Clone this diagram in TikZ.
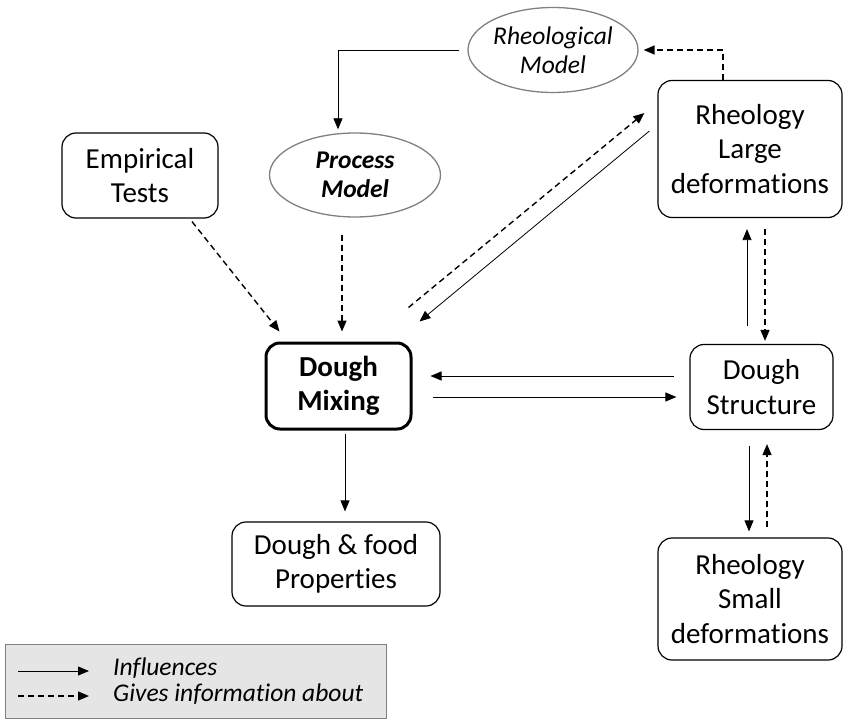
\documentclass[tikz,border=0pt]{standalone}
\usepackage{fontspec}
\setmainfont{Carlito}[Ligatures={NoCommon}]
\usetikzlibrary{arrows.meta,shapes.geometric}

\begin{document}
\begin{tikzpicture}[x=1pt, y=-1pt,
  box/.style={draw, rounded corners=14pt, line width=1.2pt, align=center, inner sep=0pt, font=\fontsize{29}{34.5}\selectfont},
  model/.style={draw=gray, ellipse, line width=1.3pt, align=center, inner sep=0pt, font=\fontsize{25.5}{29}\selectfont\itshape},
  keytext/.style={anchor=base west, inner sep=0pt, text height=17pt, text depth=0pt, font=\fontsize{25.5}{29}\selectfont\itshape},
  infl/.style={line width=0.8pt, -{Triangle[length=11pt,width=9pt]}},
  info/.style={line width=1.4pt, dash pattern=on 6pt off 4pt, -{Triangle[length=11pt,width=9pt]}}]
  \useasboundingbox (0,0) rectangle (843,722);
  \node [model, minimum width=170pt, minimum height=85pt] (rheomodel) at (553,50) {Rheological\\Model};
  \node [model, minimum width=171pt, minimum height=84pt, font=\fontsize{25.5}{29}\selectfont\bfseries\itshape] (procmodel) at (355,175) {Process\\Model};
  \node [box, minimum width=156pt, minimum height=85pt] (emptests) at (140,175.5) {Empirical\\Tests};
  \node [box, minimum width=184pt, minimum height=137pt] (rheolarge) at (750,149) {Rheology\\Large\\deformations};
  \node [box, line width=3pt, minimum width=145pt, minimum height=86pt, font=\fontsize{29}{34.5}\selectfont\bfseries] (mixing) at (338.5,386) {Dough\\Mixing};
  \node [box, minimum width=143pt, minimum height=85pt] (structure) at (761.5,387) {Dough\\Structure};
  \node [box, minimum width=208pt, minimum height=84pt] (props) at (336,564) {Dough \& food\\Properties};
  \node [box, minimum width=184pt, minimum height=122pt] (rheosmall) at (750,599) {Rheology\\Small\\deformations};
  \node [draw=gray, fill=gray!20, line width=1pt, anchor=north west, inner sep=0pt, minimum width=381pt, minimum height=74pt] (legend) at (5,644) {};
  \node [keytext] (infllabel) at (113,675) {Influences};
  \node [keytext] (infolabel) at (113,701) {Gives information about};
  \coordinate (inflstart) at (18,671);
  \coordinate (infostart) at (18,696);
  \draw[infl, shorten <=8pt] (rheomodel.west) -| ([xshift=-17pt,yshift=3pt]procmodel.north);
  \draw[info] ([xshift=-27pt]rheolarge.north) |- ([xshift=5pt]rheomodel.east);
  \draw[info] ([xshift=52pt,yshift=-3pt]emptests.south) -- ([xshift=15pt,yshift=10pt]mixing.north west);
  \draw[info] ([xshift=-13pt,yshift=-17pt]procmodel.south) -- ([xshift=3.5pt,yshift=10pt]mixing.north);
  \draw[info] ([xshift=-4pt,yshift=34pt]mixing.north east) -- ([xshift=-13pt,yshift=36pt]rheolarge.west);
  \draw[infl] ([xshift=-8pt,yshift=18pt]rheolarge.west) -- ([xshift=7pt,yshift=20pt]mixing.north east);
  \draw[infl] ([xshift=-15pt,yshift=11pt]structure.west) -- ([xshift=18pt,yshift=10pt]mixing.east);
  \draw[infl] ([xshift=20pt,yshift=-11pt]mixing.east) -- ([xshift=-13pt,yshift=-10pt]structure.west);
  \draw[infl] ([xshift=6.5pt,yshift=-3pt]mixing.south) -- ([xshift=9pt,yshift=10pt]props.north);
  \draw[infl] ([xshift=-14.5pt,yshift=18pt]structure.north) -- ([xshift=-3pt,yshift=-11pt]rheolarge.south);
  \draw[info] ([xshift=15pt,yshift=-11pt]rheolarge.south) -- ([xshift=3.5pt,yshift=3pt]structure.north);
  \draw[infl] ([xshift=-12.5pt,yshift=-16pt]structure.south) -- ([xshift=-1pt,yshift=6pt]rheosmall.north);
  \draw[info] ([xshift=17pt,yshift=10pt]rheosmall.north) -- ([xshift=5.5pt,yshift=-14pt]structure.south);
  \draw[infl] (inflstart) -- ([xshift=-24pt,yshift=4pt]infllabel.base west);
  \draw[info] (infostart) -- ([xshift=-24pt,yshift=5pt]infolabel.base west);
\end{tikzpicture}
\end{document}
